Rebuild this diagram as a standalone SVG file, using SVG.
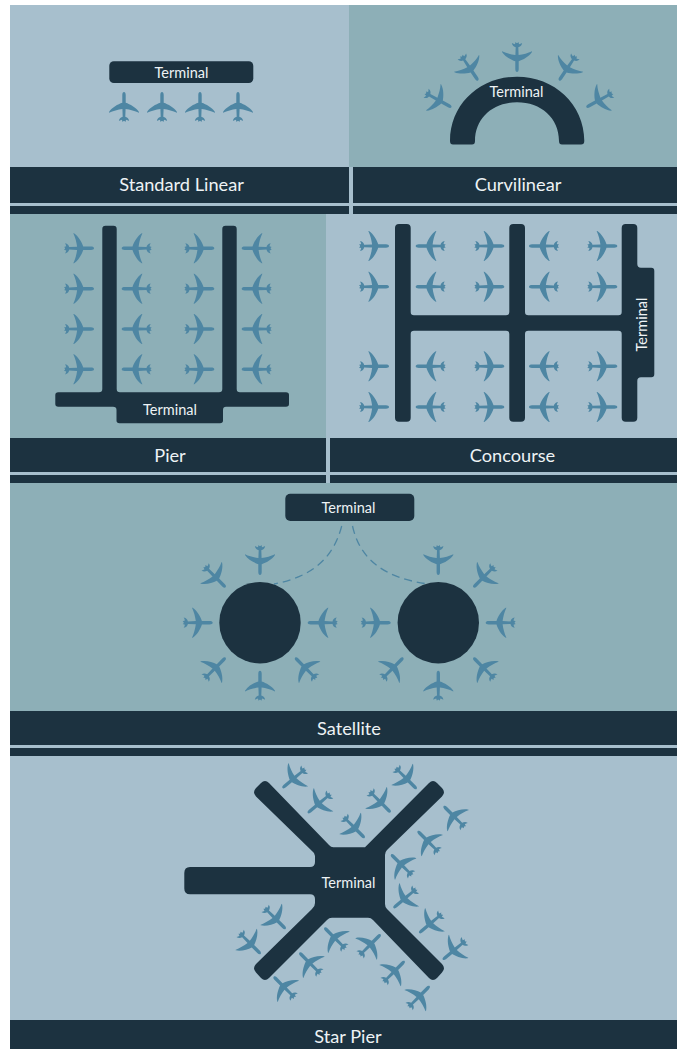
<svg xmlns="http://www.w3.org/2000/svg" width="677" height="1049" viewBox="0 0 677 1049">
<style>
.d{fill:#1c3240}.l{fill:#a7bfcd}.t{fill:#8dafb7}
.p{fill:#4e86a3}
text{font-family:"Lato","Open Sans",sans-serif;fill:#eef3f5;text-anchor:middle;font-weight:400}
.s{font-size:14.500px}.b{font-size:18.200px}
.c{fill:none;stroke:#4e86a3;stroke-width:1.3;stroke-dasharray:8 5}
</style>
<defs>
<path id="a" d="M0,-15C1,-15 1.700,-13.800 1.700,-12L1.700,-4.200C6,-2.800 12,.4 15,5L15,5.700C11,3.700 6,2.500 1.600,1.900L1.300,9.800C2.800,10.300 4.900,11.200 5.100,14C4,13.300 3,13 2.100,12.800L1.400,15L.5,14L-.5,14L-1.400,15L-2.100,12.800C-3,13 -4,13.300 -5.100,14C-4.900,11.200 -2.800,10.300 -1.300,9.800L-1.600,1.900C-6,2.500 -11,3.700 -15,5.700L-15,5C-12,.4 -6,-2.800 -1.700,-4.200L-1.700,-12C-1.700,-13.800 -1,-15 0,-15Z"/>
</defs>
<rect width="677" height="1049" fill="#fff"/>
<g id="backgrounds">
<rect class="l" x="10" y="5" width="667" height="209"/>
<rect class="t" x="349" y="5" width="328" height="162"/>
<rect class="l" x="10" y="214" width="667" height="269"/>
<rect class="t" x="10" y="214" width="316" height="224"/>
<rect class="t" x="10" y="483" width="667" height="228"/>
<rect class="l" x="10" y="745" width="667" height="304"/>
</g>
<g id="bars">
<rect class="d" x="10" y="167" width="339" height="36"/><rect class="d" x="353" y="167" width="324" height="36"/>
<rect class="d" x="10" y="206" width="339" height="8"/><rect class="d" x="353" y="206" width="324" height="8"/>
<rect class="d" x="10" y="438" width="316" height="34"/><rect class="d" x="330" y="438" width="347" height="34"/>
<rect class="d" x="10" y="475" width="316" height="8"/><rect class="d" x="330" y="475" width="347" height="8"/>
<rect class="d" x="10" y="711" width="667" height="34"/><rect class="d" x="10" y="748" width="667" height="8"/>
<rect class="d" x="10" y="1020" width="667" height="29"/>
<text class="b" x="181.500" y="191">Standard Linear</text>
<text class="b" x="518" y="191">Curvilinear</text>
<text class="b" x="170" y="461.500">Pier</text>
<text class="b" x="512.500" y="461.500">Concourse</text>
<text class="b" x="349" y="734.500">Satellite</text>
<text class="b" x="348" y="1043">Star Pier</text>
</g>
<g id="standard-linear">
<rect class="d" x="109.300" y="61.300" width="144" height="21.700" rx="4.500"/>
<text class="s" x="181.500" y="78">Terminal</text>
<g class="p">
<use href="#a" transform="translate(124 107)"/><use href="#a" transform="translate(162 107)"/><use href="#a" transform="translate(200 107)"/><use href="#a" transform="translate(238 107)"/>
</g>
</g>
<g id="curvilinear">
<path class="d" d="M450,141C450,104 480,76.700 517,76.700C554,76.700 584.300,104 584.300,141Q584.300,144.500 581,144.500L562,144.500Q559,144.500 559,141C559,118 541,102.300 517,102.300C493,102.300 475,118 475,141Q475,144.500 472,144.500L453,144.500Q450,144.500 450,141Z"/>
<text class="s" x="516.500" y="97">Terminal</text>
<g class="p">
<use href="#a" transform="translate(517 57) rotate(180)"/>
<use href="#a" transform="translate(469.700 68) rotate(146)"/>
<use href="#a" transform="translate(438.300 100) rotate(119)"/>
<use href="#a" transform="translate(567.500 68) rotate(-146)"/>
<use href="#a" transform="translate(599.500 100) rotate(-119)"/>
</g>
</g>
<g id="pier">
<path class="d" d="M102.300,229Q102.300,225.700 105.500,225.700L113.500,225.700Q116.700,225.700 116.700,229L116.700,389Q116.700,392.300 120,392.300L219,392.300Q222.300,392.300 222.300,389L222.300,229Q222.300,225.700 225.500,225.700L233.500,225.700Q236.700,225.700 236.700,229L236.700,389Q236.700,392.300 240,392.300L286,392.300Q289,392.300 289,395L289,404Q289,406.700 286,406.700L226,406.700Q223,406.700 223,410L223,420.500Q223,423.300 220,423.300L119.500,423.300Q116.500,423.300 116.500,420.500L116.500,410Q116.500,406.700 113,406.700L58.300,406.700Q55.300,406.700 55.300,404L55.300,395Q55.300,392.300 58.300,392.300L99,392.300Q102.300,392.300 102.300,389Z"/>
<text class="s" x="170" y="415">Terminal</text>
<g class="p">
<use href="#a" transform="translate(79 248.300) rotate(90)"/><use href="#a" transform="translate(136.700 248.300) rotate(-90)"/><use href="#a" transform="translate(199.300 248.300) rotate(90)"/><use href="#a" transform="translate(256.700 248.300) rotate(-90)"/>
<use href="#a" transform="translate(79 288.700) rotate(90)"/><use href="#a" transform="translate(136.700 288.700) rotate(-90)"/><use href="#a" transform="translate(199.300 288.700) rotate(90)"/><use href="#a" transform="translate(256.700 288.700) rotate(-90)"/>
<use href="#a" transform="translate(79 329) rotate(90)"/><use href="#a" transform="translate(136.700 329) rotate(-90)"/><use href="#a" transform="translate(199.300 329) rotate(90)"/><use href="#a" transform="translate(256.700 329) rotate(-90)"/>
<use href="#a" transform="translate(79 369.300) rotate(90)"/><use href="#a" transform="translate(136.700 369.300) rotate(-90)"/><use href="#a" transform="translate(199.300 369.300) rotate(90)"/><use href="#a" transform="translate(256.700 369.300) rotate(-90)"/>
</g>
</g>
<g id="concourse">
<path class="d" d="M395,228Q395,224 399,224L406.700,224Q410.700,224 410.700,228L410.700,312Q410.700,315.300 414,315.300L506,315.300Q509.300,315.300 509.300,312L509.300,228Q509.300,224 513.300,224L521,224Q525,224 525,228L525,312Q525,315.300 528.300,315.300L618.400,315.300Q621.700,315.300 621.700,312L621.700,228Q621.700,224 625.700,224L633.300,224Q637.300,224 637.300,228L637.300,264Q637.300,267.700 641,267.700L651.300,267.700Q654.300,267.700 654.300,271L654.300,374Q654.300,377.300 651.300,377.300L641,377.300Q637.300,377.300 637.300,381L637.300,417.700Q637.300,421.700 633.300,421.700L625.700,421.700Q621.700,421.700 621.700,417.700L621.700,334Q621.700,330.700 618.400,330.700L528.300,330.700Q525,330.700 525,334L525,417.700Q525,421.700 521,421.700L513.300,421.700Q509.300,421.700 509.300,417.700L509.300,334Q509.300,330.700 506,330.700L414,330.700Q410.700,330.700 410.700,334L410.700,417.700Q410.700,421.700 406.700,421.700L399,421.700Q395,421.700 395,417.700Z"/>
<text class="s" transform="translate(646.500 324.500) rotate(-90)">Terminal</text>
<g class="p">
<use href="#a" transform="translate(374 246) rotate(90)"/><use href="#a" transform="translate(430.700 246) rotate(-90)"/><use href="#a" transform="translate(489.300 246) rotate(90)"/><use href="#a" transform="translate(544 246) rotate(-90)"/><use href="#a" transform="translate(602.300 246) rotate(90)"/>
<use href="#a" transform="translate(374 286.700) rotate(90)"/><use href="#a" transform="translate(430.700 286.700) rotate(-90)"/><use href="#a" transform="translate(489.300 286.700) rotate(90)"/><use href="#a" transform="translate(544 286.700) rotate(-90)"/><use href="#a" transform="translate(602.300 286.700) rotate(90)"/>
<use href="#a" transform="translate(374 366.300) rotate(90)"/><use href="#a" transform="translate(430.700 366.300) rotate(-90)"/><use href="#a" transform="translate(489.300 366.300) rotate(90)"/><use href="#a" transform="translate(544 366.300) rotate(-90)"/><use href="#a" transform="translate(602.300 366.300) rotate(90)"/>
<use href="#a" transform="translate(374 407) rotate(90)"/><use href="#a" transform="translate(430.700 407) rotate(-90)"/><use href="#a" transform="translate(489.300 407) rotate(90)"/><use href="#a" transform="translate(544 407) rotate(-90)"/><use href="#a" transform="translate(602.300 407) rotate(90)"/>
</g>
</g>
<g id="connectors">
<path class="c" d="M341.700,526C333,560 310,577 274,584"/>
<path class="c" d="M352.500,526C360,560 385,578 428,584"/>
</g>
<g id="satellite">
<rect class="d" x="285.300" y="493.700" width="129" height="27.300" rx="5"/>
<text class="s" x="348.500" y="513">Terminal</text>
<circle class="d" cx="260" cy="622.700" r="40.700"/>
<circle class="d" cx="438.300" cy="622.700" r="40.700"/>
<g class="p">
<use href="#a" transform="translate(260 560) rotate(180)"/><use href="#a" transform="translate(260 685.700)"/><use href="#a" transform="translate(197.700 622.700) rotate(90)"/><use href="#a" transform="translate(322.700 622.700) rotate(-90)"/><use href="#a" transform="translate(215 576.700) rotate(135)"/><use href="#a" transform="translate(215 668.300) rotate(45)"/><use href="#a" transform="translate(305.700 668.300) rotate(-45)"/>
<use href="#a" transform="translate(438.300 560) rotate(180)"/><use href="#a" transform="translate(438.300 685.700)"/><use href="#a" transform="translate(375.700 622.700) rotate(90)"/><use href="#a" transform="translate(500.700 622.700) rotate(-90)"/><use href="#a" transform="translate(484 576.700) rotate(-135)"/><use href="#a" transform="translate(392.700 668.300) rotate(45)"/><use href="#a" transform="translate(484 668.300) rotate(-45)"/>
</g>
</g>
<g id="star-pier">
<path class="d" d="M333.300,847.300L365,847.300L429,783Q433,779 437,783L442,788Q446,792.300 442,796.500L387,850Q385,852 385,855L385,904Q385,907 387,909L442,964Q446,968.300 442,972.500L437,978Q433,982 429,978L373,920Q371,917.700 368,917.700L332,917.700Q329,917.700 327,920L269,978Q265,982 261,978L256,972.500Q252,968.300 256,964L312,909Q315,906.700 315,903L315,899Q315,894.300 310,894.300L190,894.300Q184.300,894.300 184.300,888.500L184.300,873Q184.300,867 190,867L310,867Q315,867 315,862L315,856Q315,853 312,851L256,796.500Q252,792.300 256,788L261,783Q265,779 269,783L329,845Q331,847.300 333.300,847.300Z"/>
<text class="s" x="348.500" y="888">Terminal</text>
<g class="p">
<use href="#a" transform="translate(294 778.300) rotate(-130)"/><use href="#a" transform="translate(319.300 803.300) rotate(-130)"/>
<use href="#a" transform="translate(354 827.300) rotate(135)"/><use href="#a" transform="translate(380 801.700) rotate(135)"/><use href="#a" transform="translate(406 778.300) rotate(135)"/>
<use href="#a" transform="translate(454.300 816.700) rotate(-45)"/><use href="#a" transform="translate(428.300 841.700) rotate(-45)"/><use href="#a" transform="translate(401.700 865) rotate(-45)"/>
<use href="#a" transform="translate(405 898.300) rotate(-130)"/><use href="#a" transform="translate(430.700 923.300) rotate(-130)"/><use href="#a" transform="translate(454.300 950) rotate(-130)"/>
<use href="#a" transform="translate(275 918.300) rotate(135)"/><use href="#a" transform="translate(250 943.300) rotate(135)"/>
<use href="#a" transform="translate(335 938.300) rotate(-45)"/><use href="#a" transform="translate(310 963.300) rotate(-45)"/><use href="#a" transform="translate(284.300 987.300) rotate(-45)"/>
<use href="#a" transform="translate(370 945) rotate(45)"/><use href="#a" transform="translate(394 971.700) rotate(45)"/><use href="#a" transform="translate(419 996.700) rotate(45)"/>
</g>
</g>
</svg>
